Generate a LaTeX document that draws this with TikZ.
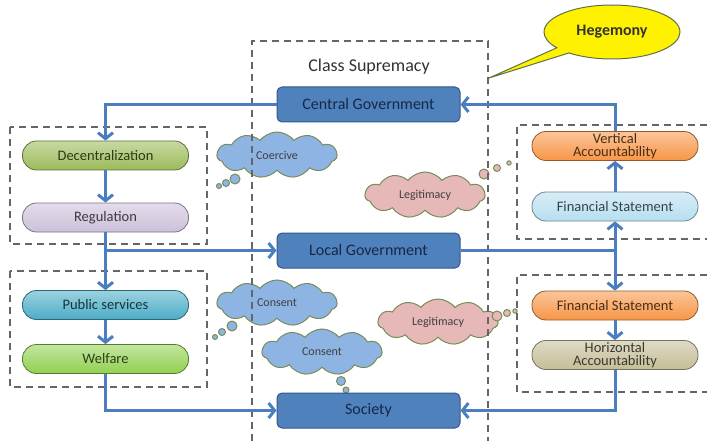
\documentclass[tikz,border=0pt]{standalone}
\usepackage{fontspec}
\setmainfont{Carlito}
\usetikzlibrary{arrows.meta,shapes.callouts,shapes.symbols}

\definecolor{govfill}{RGB}{79,129,189}
\definecolor{govline}{RGB}{52,88,135}
\definecolor{govtext}{RGB}{22,40,72}
\definecolor{flowblue}{RGB}{74,126,192}
\definecolor{cloudblue}{RGB}{142,180,227}
\definecolor{cloudpink}{RGB}{230,184,183}
\definecolor{cloudline}{RGB}{120,140,90}
\definecolor{decgreen}{RGB}{155,187,89}
\definecolor{reglilac}{RGB}{204,192,218}
\definecolor{pubteal}{RGB}{75,172,198}
\definecolor{welgreen}{RGB}{146,208,80}
\definecolor{accorange}{RGB}{247,150,70}
\definecolor{fslight}{RGB}{183,222,240}
\definecolor{horitan}{RGB}{196,189,151}

\begin{document}
\begin{tikzpicture}[x=1pt,y=-1pt,
    every node/.style={font=\fontsize{14.5}{13}\selectfont, align=center},
    gov/.style={draw=govline, line width=1pt, fill=govfill, rounded corners=5pt,
      minimum width=183pt, minimum height=35pt, text=govtext, font=\fontsize{16}{18}\selectfont},
    pill/.style={draw=#1!60!black, line width=0.8pt, top color=#1!55, bottom color=#1,
      rounded corners=14pt, minimum width=166pt, minimum height=29pt, inner sep=1pt,
      text=#1!30!black},
    flow/.style={draw=flowblue, line width=3pt, -{Straight Barb[length=6pt,width=15pt]}},
    link/.style={draw=flowblue, line width=3pt},
    group/.style={draw=black!60, line width=1.2pt, dash pattern=on 7pt off 5pt},
    thought/.style={cloud, cloud puffs=11, cloud puff arc=105, aspect=2.6, draw=cloudline,
      line width=1pt, minimum width=120pt, minimum height=46pt, inner sep=1pt,
      text=black!75, font=\fontsize{12}{13}\selectfont},
    bubble/.style={draw=cloudline, line width=1pt}]

    \useasboundingbox (0,0) rectangle (707,441);

    % thought clouds
    \node[thought, fill=cloudblue] (coer) at (277,155) {Coercive};
    \node[thought, fill=cloudpink] (legit1) at (425,195) {Legitimacy};
    \node[thought, fill=cloudblue] (cons1) at (277,303) {Consent};
    \node[thought, fill=cloudblue] (cons2) at (322,352) {Consent};
    \node[thought, fill=cloudpink] (legit2) at (438,322) {Legitimacy};

    % bubbles
    \draw[bubble, fill=cloudblue] (235,179) circle (5) (226,183) circle (3.5) (219,186) circle (2.5);
    \draw[bubble, fill=cloudpink] (484,174) circle (5) (497,168) circle (3.5) (509,163) circle (2.2);
    \draw[bubble, fill=cloudblue] (232,326) circle (5) (222,332) circle (3.5) (215,337) circle (2.5);
    \draw[bubble, fill=cloudblue] (341,381) circle (4.5) (346,390) circle (3);
    \draw[bubble, fill=cloudpink] (497,316) circle (5) (507,313) circle (3.5) (515,311) circle (2.2);

    % dashed groups
    \draw[group] (252,441) -- (252,41) -- (488,41) -- (488,441);
    \draw[group] (10,127) rectangle (207,244);
    \draw[group] (10,271) rectangle (207,387);
    \draw[group] (707,125) -- (517,125) -- (517,239) -- (707,239);
    \draw[group] (707,275) -- (517,275) -- (517,392) -- (707,392);

    \node[font=\fontsize{18}{20}\selectfont, text=black!80] (title) at (369,67) {Class Supremacy};

    % hegemony callout
    \node[ellipse callout, draw=cloudline!80!black, line width=1pt, fill=yellow,
      minimum width=136pt, minimum height=54pt, font=\bfseries\fontsize{16}{18}\selectfont,
      text=black!80, callout absolute pointer={(489,78)}] (heg) at (612,32) {Hegemony};

    % middle column
    \node[gov] (cg) at (368.5,104.5) {Central Government};
    \node[gov] (lg) at (368.5,250.5) {Local Government};
    \node[gov] (soc) at (368.5,410.5) {Society};

    % left column
    \node[pill=decgreen] (dec) at (105.5,155.5) {Decentralization};
    \node[pill=reglilac] (reg) at (105.5,217.5) {Regulation};
    \node[pill=pubteal] (pub) at (105.5,305) {Public services};
    \node[pill=welgreen] (wel) at (105.5,359) {Welfare};

    % right column
    \node[pill=accorange] (va) at (615,146) {Vertical\\Accountability};
    \node[pill=fslight] (fs1) at (615,206.5) {Financial Statement};
    \node[pill=accorange] (fs2) at (615,305.5) {Financial Statement};
    \node[pill=horitan] (ha) at (615,355) {Horizontal\\Accountability};

    \coordinate (jl) at (105.5,250.5);
    \coordinate (jr) at (615,250.5);

    % arrows left
    \draw[flow] (cg.west) -| (dec.north);
    \draw[flow] (dec.south) -- (reg.north);
    \draw[link] (reg.south) -- (jl);
    \draw[flow] (jl) -- (lg.west);
    \draw[flow] (jl) -- (pub.north);
    \draw[flow] (pub.south) -- (wel.north);
    \draw[flow] (wel.south) |- (soc.west);

    % arrows right
    \draw[link] (lg.east) -- (jr);
    \draw[flow] (jr) -- (fs1.south);
    \draw[flow] (jr) -- (fs2.north);
    \draw[flow] (fs1.north) -- (va.south);
    \draw[flow] (va.north) |- (cg.east);
    \draw[flow] (fs2.south) -- (ha.north);
    \draw[flow] (ha.south) |- (soc.east);

\end{tikzpicture}
\end{document}
